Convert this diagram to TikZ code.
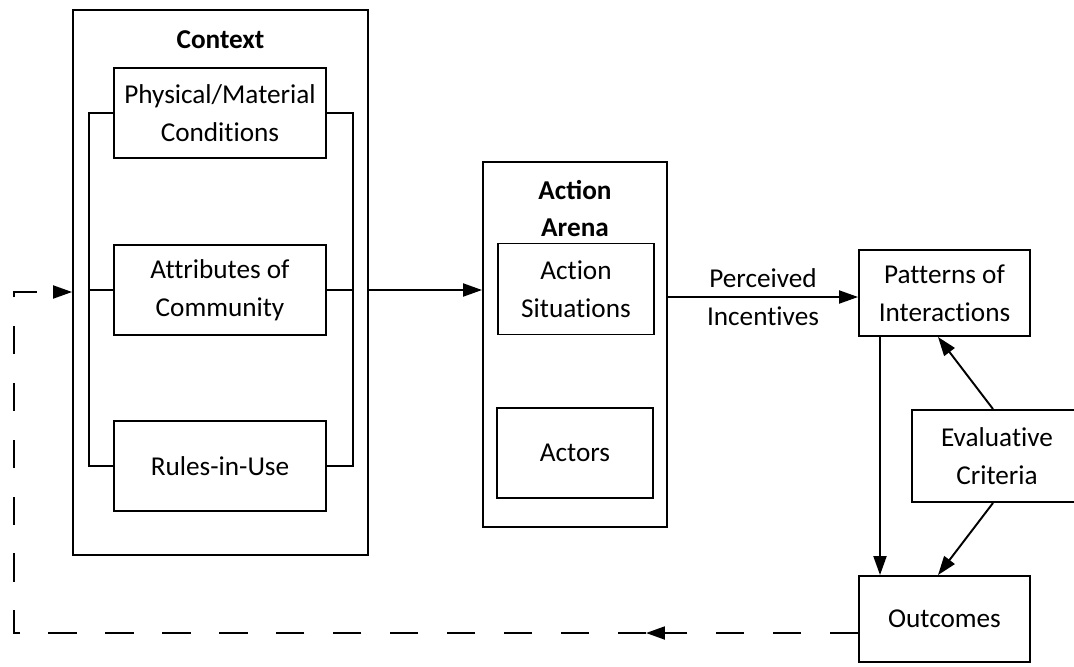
\documentclass[tikz,border=0pt]{standalone}
\usepackage{fontspec}
\setmainfont{Carlito}[RawFeature={-liga;-clig;-calt}, BoldFeatures={RawFeature={+liga}}]
\usetikzlibrary{arrows.meta}

\begin{document}
\begin{tikzpicture}[x=0.02cm, y=-0.02cm, line width=1.1pt,
		box/.style={draw, rectangle, align=center, inner sep=0pt},
		inbox/.style={box, minimum width=4.24cm, minimum height=1.8cm},
		subbox/.style={box, minimum width=3.12cm, minimum height=1.8cm},
		outbox/.style={box, minimum width=3.42cm, minimum height=1.72cm},
		title/.style={align=center, font=\bfseries},
		tip/.style={-{Triangle[length=10.8pt, width=7.4pt]}},
		feedback/.style={dash pattern=on 16.2pt off 16.2pt}]
		\useasboundingbox (0,0) rectangle (1074,666);
		\fontsize{15.5}{21.6}\selectfont

		% Context and its three parts
		\node[box, minimum width=5.9cm, minimum height=10.9cm] (ctx) at (220.5,282.5) {};
		\node[title] (ctxtitle) at (220.5,40) {Context};
		\node[inbox, fill=white] (phys) at (220,113) {Physical/Material\\Conditions};
		\node[inbox] (attr) at (220,290) {Attributes of\\Community};
		\node[inbox] (rules) at (220,466) {Rules-in-Use};

		\draw (phys.west) -- ++(-24,0) |- (rules.west);
		\draw (attr.west) -- ++(-24,0);
		\draw (phys.east) -- ++(26,0) |- (rules.east);
		\draw (attr.east) -- ++(26,0);

		% Action arena
		\node[box, minimum width=3.68cm, minimum height=7.3cm] (arena) at (575,344.5) {};
		\node[title] (arenatitle) at (575,208.5) {Action\\Arena};
		\node[subbox, minimum height=1.82cm] (sit) at (576,289) {Action\\Situations};
		\node[subbox] (actors) at (575,453) {Actors};

		% Right column
		\node[outbox] (pat) at (944.5,293) {Patterns of\\Interactions};
		\node[box, minimum width=3.4cm, minimum height=1.84cm] (eval) at (997,456) {Evaluative\\Criteria};
		\node[outbox] (out) at (944.5,619) {Outcomes};

		\draw[tip] (ctx.east |- attr) -- (arena.west |- attr);
		\draw[tip] (arena.east |- 0,297) -- node[align=center] (inc) {Perceived\\Incentives} (pat.west |- 0,297);
		\draw[tip] (pat.south -| 880,0) -- (out.north -| 880,0);
		\draw[tip] (eval.north -| 993,0) -- (pat.south -| 938,0);
		\draw[tip] (eval.south -| 993,0) -- (out.north -| 938,0);

		% Feedback loop
		\coordinate (fbstart) at (out.west |- 0,633);
		\coordinate (fbmid) at (646,633);
		\coordinate (fbcorner) at (14,633);
		\coordinate (fbtop) at (14,292);
		\draw[feedback, tip] (fbstart) -- (fbmid);
		\draw[feedback, tip] (fbmid) -- (fbcorner) -- (fbtop) -- (ctx.west |- fbtop);
	\end{tikzpicture}
\end{document}
